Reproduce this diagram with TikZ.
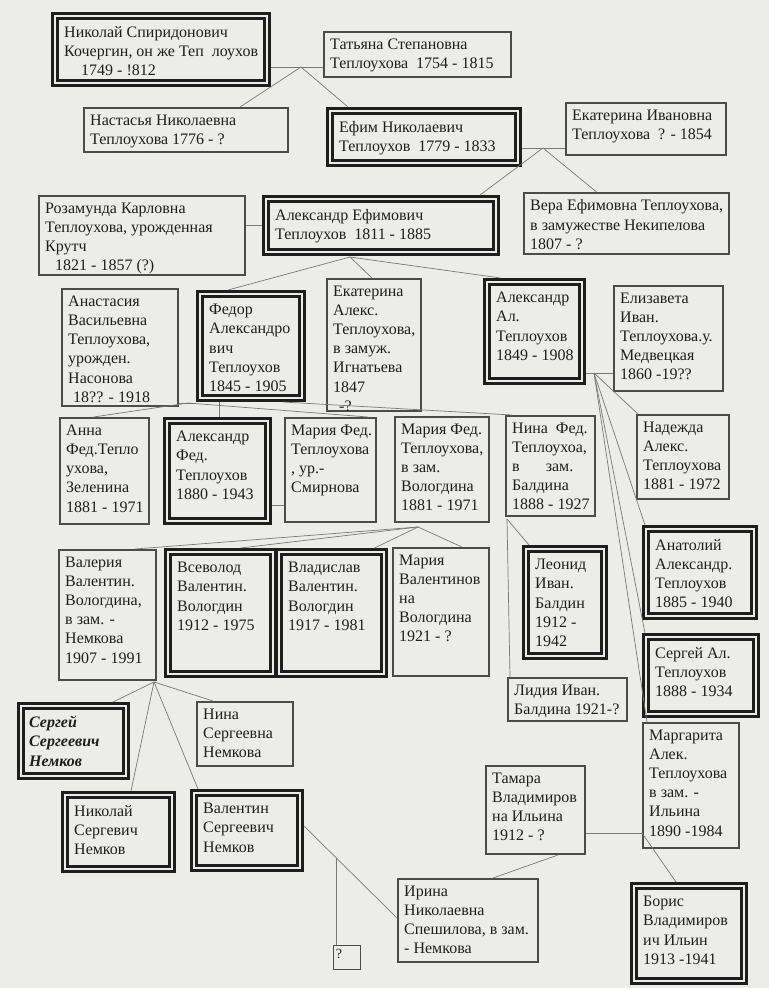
\documentclass[tikz,border=0pt]{standalone}
\usepackage{fontspec}
\setmainfont{Liberation Serif}
\usetikzlibrary{calc}
\definecolor{paper}{RGB}{236,236,234}
\definecolor{ink}{RGB}{30,30,30}
\tikzset{
  sgl/.style={draw=ink!80, line width=2.2pt, outer sep=1.1pt, inner sep=0pt, rectangle},
  dbl/.style={draw=ink, line width=2.8pt, double=paper, double distance=2.6pt, outer sep=4.1pt, inner sep=0pt, rectangle},
  txt/.style={font=\fontsize{16}{19.2}\selectfont, align=left, inner sep=0pt, text=ink},
  link/.style={draw=ink!60, line width=0.7pt},
}
\newcommand{\famS}[6]{%
  \node[sgl, minimum width={(#4-#2-2.2)*1pt}, minimum height={(#5-#3-2.2)*1pt}] (#1) at ({(#2+#4)/2},{(#3+#5)/2}) {};
  \node[txt, anchor=north west] (#1-t) at ([shift={(7,7.5)}]#1.north west) {#6};}
\newcommand{\famD}[6]{%
  \node[dbl, minimum width={(#4-#2-8.2)*1pt}, minimum height={(#5-#3-8.2)*1pt}] (#1) at ({(#2+#4)/2},{(#3+#5)/2}) {};
  \node[txt, anchor=north west] (#1-t) at ([shift={(13,14)}]#1.north west) {#6};}
\begin{document}
\begin{tikzpicture}[x=1pt,y=-1pt]
\fill[paper] (0,0) rectangle (769,988);
\useasboundingbox (0,0) rectangle (769,988);

% generation 1
\famD{nik}{51}{12}{271}{87}{Николай Спиридонович\\Кочергин, он же Теп\ \ лоухов\\\hspace*{17pt}1749 - !812}
\famS{tat}{323}{31}{512}{78}{Татьяна Степановна\\Теплоухова\ \ 1754 - 1815}
% generation 2
\famS{nas}{83}{107}{289}{153}{Настасья Николаевна\\Теплоухова 1776 - ?}
\famD{efim}{326}{107}{522}{167}{Ефим Николаевич\\Теплоухов\ \ 1779 - 1833}
\famS{ekI}{565}{102}{727}{156}{Екатерина Ивановна\\Теплоухова\ \ ? - 1854}
% generation 3
\famS{roz}{38}{195}{246}{276}{Розамунда Карловна\\Теплоухова, урожденная\\Крутч\\\hspace*{10pt}1821 - 1857 (?)}
\famD{alE}{262}{195}{500}{256}{Александр Ефимович\\Теплоухов\ \ 1811 - 1885}
\famS{vera}{523}{192}{730}{255}{Вера Ефимовна Теплоухова,\\в замужестве Некипелова\\1807 - ?}
% generation 4
\famS{anast}{61}{288}{179}{407}{Анастасия\\Васильевна\\Теплоухова,\\урожден.\\Насонова\\\hspace*{5pt}18?? - 1918}
\famD{fed}{196}{290}{306}{402}{Федор\\Александро\\вич\\Теплоухов\\1845 - 1905}
\famS{ekA}{326}{278}{422}{412}{Екатерина\\Алекс.\\Теплоухова,\\в замуж.\\Игнатьева\\1847\\\hspace*{6pt}-?}
\famD{alA}{483}{278}{586}{385}{Александр\\Ал.\\Теплоухов\\1849 - 1908}
\famS{eliz}{613}{285}{724}{392}{Елизавета\\Иван.\\Теплоухова.у.\\Медвецкая\\1860 -19??}
% generation 5
\famS{anna}{59}{417}{150}{525}{Анна\\Фед.Тепло\\ухова,\\Зеленина\\1881 - 1971}
\famD{alF}{163}{417}{272}{525}{Александр\\Фед.\\Теплоухов\\1880 - 1943}
\famS{marS}{284}{417}{377}{523}{Мария Фед.\\Теплоухова\\, ур.-\\Смирнова}
\famS{marV}{394}{416}{490}{523}{Мария Фед.\\Теплоухова,\\в зам.\\Вологдина\\1881 - 1971}
\famS{nina}{505}{415}{596}{517}{Нина\ \ Фед.\\Теплоухоа,\\в\hspace{26pt}зам.\\Балдина\\1888 - 1927}
\famS{nad}{636}{414}{730}{500}{Надежда\\Алекс.\\Теплоухова\\1881 - 1972}
% generation 6
\famS{val}{58}{549}{157}{681}{Валерия\\Валентин.\\Вологдина,\\в зам. -\\Немкова\\1907 - 1991}
\famD{vsev}{164}{548}{277}{678}{Всеволод\\Валентин.\\Вологдин\\1912 - 1975}
\famD{vlad}{275}{548}{388}{678}{Владислав\\Валентин.\\Вологдин\\1917 - 1981}
\famS{marVal}{392}{547}{490}{677}{Мария\\Валентинов\\на\\Вологдина\\1921 - ?}
\famD{leon}{522}{545}{608}{660}{Леонид\\Иван.\\Балдин\\1912 -\\1942}
\famD{anat}{642}{525}{758}{620}{Анатолий\\Александр.\\Теплоухов\\1885 - 1940}
\famD{serg}{642}{633}{760}{718}{Сергей Ал.\\Теплоухов\\1888 - 1934}
\famS{lid}{507}{677}{628}{722}{Лидия Иван.\\Балдина 1921-?}
% generation 7
\node[dbl, minimum width=104.8pt, minimum height=69.8pt] (sergS) at (73.5,741) {};
\node[txt, font=\fontsize{16}{19.2}\selectfont\itshape\bfseries, anchor=north west] (sergS-t) at ([shift={(12,14)}]sergS.north west) {Сергей\\Сергеевич\\Немков};
\famS{ninaS}{196}{701}{294}{767}{Нина\\Сергеевна\\Немкова}
\famS{tam}{485}{765}{586}{855}{Тамара\\Владимиров\\на Ильина\\1912 - ?}
\famS{marg}{642}{722}{740}{849}{Маргарита\\Алек.\\Теплоухова\\в зам. -\\Ильина\\1890 -1984}
\famD{nikS}{61}{791}{176}{873}{Николай\\Сергевич\\Немков}
\famD{valS}{190}{789}{304}{872}{Валентин\\Сергеевич\\Немков}
\famS{irina}{397}{878}{539}{963}{Ирина\\Николаевна\\Спешилова, в зам.\\- Немкова}
\node[draw=ink!80, line width=0.8pt, minimum width=27pt, minimum height=24pt, inner sep=0pt] (q) at (346.5,957) {};
\node[txt, font=\fontsize{14}{16}\selectfont, anchor=north west] (q-t) at ([shift={(3,4)}]q.north west) {?};
\famD{boris}{630}{882}{748}{985}{Борис\\Владимиров\\ич Ильин\\1913 -1941}

% connectors
\coordinate (J1) at (301,67);
\draw[link] (J1 -| nik.east) -- (J1 -| tat.west);
\draw[link] (J1) -- ([shift={(54,0)}]nas.north);
\draw[link] (J1) -- ([shift={(-76,0)}]efim.north);

\coordinate (J2) at (543,148);
\draw[link] (J2 -| efim.east) -- (J2 -| ekI.west);
\draw[link] (J2) -- ([shift={(99,0)}]alE.north);
\draw[link] (J2) -- ([shift={(-30,0)}]vera.north);

\coordinate (Jr) at (254,225);
\draw[link] (Jr -| roz.east) -- (Jr -| alE.west);

\coordinate (J3) at ([shift={(-31,1)}]alE.south);
\draw[link] (J3) -- ([shift={(-23,0)}]fed.north);
\draw[link] (J3) -- ([shift={(-2,0)}]ekA.north);
\draw[link] (J3) -- ([shift={(-34,0)}]alA.north);

\coordinate (J4) at (188,403);
\draw[link] (J4 -| anast.east) -- (J4 -| fed.west);
\draw[link] (J4) -- ([shift={(-11,0)}]anna.north);
\draw[link] ([shift={(-32,0)}]fed.south) -- ([shift={(1.5,0)}]alF.north);
\draw[link] (J4) -- ([shift={(-9,0)}]marS.north east);
\draw[link] ([shift={(-23,0)}]fed.south east) -- ([shift={(7,0)}]nina.north west);

\coordinate (Jm) at (278,505);
\draw[link] (Jm -| alF.east) -- (Jm -| marS.west);

\coordinate (J5) at (418,527);
\draw[link] (J5) -- ([shift={(27.5,0)}]val.north);
\draw[link] (J5) -- ([shift={(20,0)}]vsev.north);
\draw[link] (J5) -- ([shift={(43,0)}]vlad.north);
\draw[link] (J5) -- ([shift={(21,0)}]marVal.north);

\coordinate (J6) at (507,519);
\draw[link] (J6) -- ([shift={(7,0)}]leon.north west);
\draw[link] (J6) -- ([shift={(3,0)}]lid.north west);

\coordinate (J7) at (594,373);
\draw[link] (J7 -| alA.east) -- (J7 -| eliz.west);
\draw[link] (J7) -- ([shift={(2,0)}]nad.north west);
\draw[link] (J7) -- ([shift={(3,0)}]anat.north west);
\draw[link] (J7) -- ([shift={(3,0)}]serg.north west);
\draw[link] (J7) -- ([shift={(5,0)}]marg.north west);

\coordinate (J8) at (154,682);
\draw[link] (J8) -- ([shift={(39.5,0)}]sergS.north);
\draw[link] (J8) -- ([shift={(-32,0)}]ninaS.north);
\draw[link] (J8) -- ([shift={(12.5,0)}]nikS.north);
\draw[link] (J8) -- ([shift={(-49,0)}]valS.north);

\coordinate (J9) at (614,833);
\draw[link] (J9 -| tam.east) -- (J9 -| marg.west);
\draw[link] (J9 -| marg.west) -- ([shift={(-13,0)}]boris.north);
\draw[link] ([shift={(22.5,0)}]tam.south) -- ([shift={(25,0)}]irina.north);

\coordinate (Va) at ([shift={(0,-4.5)}]valS.east);
\coordinate (Ir) at ([shift={(0,-2.5)}]irina.west);
\draw[link] (Va) -- (Ir);
\coordinate (J10) at ($(Va)!0.344!(Ir)$);
\draw[link] (J10) -- (J10 |- q.north);
\end{tikzpicture}
\end{document}
